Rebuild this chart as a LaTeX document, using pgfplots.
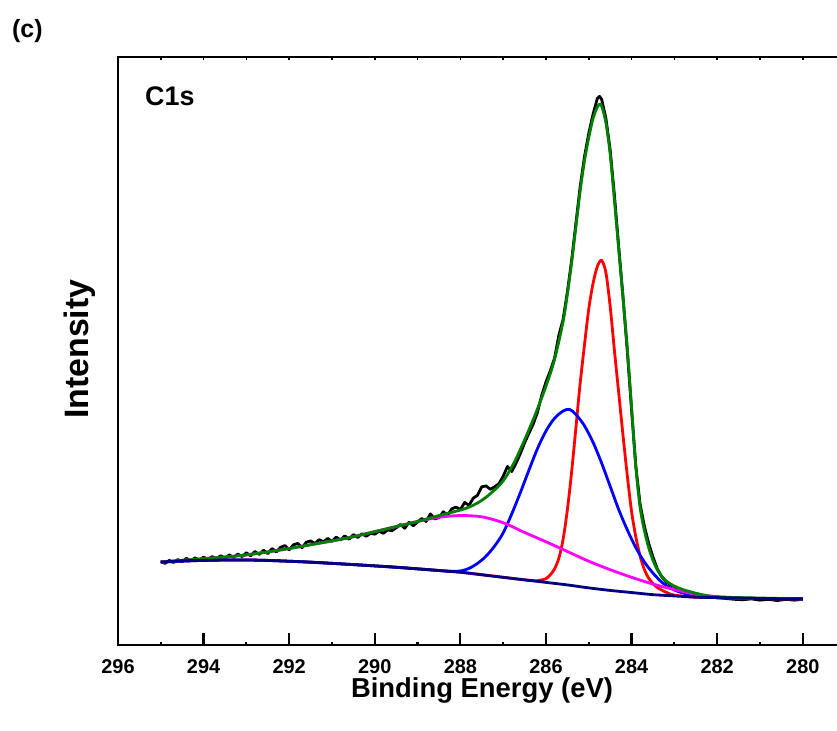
\documentclass[border=0pt]{standalone}
\usepackage{fontspec}
\setmainfont{Liberation Sans}
\usepackage{pgfplots}
\usepackage{pgfplotstable}
\pgfplotsset{compat=1.18}
\definecolor{fitgreen}{RGB}{0,128,0}
\definecolor{basenavy}{RGB}{0,0,128}
\definecolor{pkred}{RGB}{255,0,0}
\definecolor{pkblue}{RGB}{0,0,255}
\definecolor{pkmag}{RGB}{255,0,255}

% measured spectrum (binding energy, intensity in tick units)
\pgfplotstableread{
x y
295.0 1.97
294.9 1.93
294.8 2.00
294.7 1.95
294.6 2.02
294.5 1.97
294.4 2.05
294.3 1.99
294.2 2.06
294.1 2.01
294.0 2.08
293.9 2.02
293.8 2.09
293.7 2.04
293.6 2.11
293.5 2.05
293.4 2.13
293.3 2.07
293.2 2.15
293.1 2.09
293.0 2.18
292.9 2.11
292.8 2.21
292.7 2.14
292.6 2.24
292.5 2.16
292.4 2.28
292.3 2.20
292.2 2.31
292.1 2.35
292.0 2.25
291.9 2.37
291.8 2.40
291.7 2.30
291.6 2.43
291.5 2.46
291.4 2.40
291.3 2.49
291.2 2.44
291.1 2.52
291.0 2.45
290.9 2.55
290.8 2.48
290.7 2.58
290.6 2.50
290.5 2.61
290.4 2.54
290.3 2.63
290.2 2.57
290.1 2.64
290.0 2.62
289.9 2.69
289.8 2.64
289.7 2.72
289.6 2.70
289.5 2.77
289.4 2.85
289.3 2.76
289.2 2.90
289.1 2.82
289.0 2.91
288.9 2.99
288.8 2.92
288.7 3.10
288.6 2.98
288.5 3.01
288.4 3.15
288.3 3.07
288.2 3.22
288.1 3.26
288.0 3.20
287.9 3.37
287.8 3.30
287.7 3.47
287.6 3.54
287.5 3.74
287.4 3.76
287.3 3.68
287.2 3.74
287.1 3.81
287.0 3.99
286.9 4.22
286.8 4.10
286.7 4.30
286.6 4.52
286.5 4.78
286.4 5.00
286.3 5.22
286.2 5.50
286.1 5.90
286.0 6.22
285.9 6.48
285.8 6.78
285.7 7.32
285.6 7.70
285.5 8.35
285.4 9.10
285.3 9.98
285.2 10.85
285.1 11.55
285.0 12.10
284.9 12.55
284.8 12.92
284.75 12.97
284.7 12.90
284.6 12.45
284.5 11.70
284.4 10.62
284.3 9.40
284.2 8.22
284.1 6.95
284.0 5.55
283.9 4.22
283.8 3.32
283.7 2.80
283.6 2.40
283.5 2.08
283.4 1.80
283.3 1.62
283.2 1.50
283.1 1.43
283.0 1.38
282.8 1.28
282.6 1.22
282.4 1.18
282.2 1.13
282.0 1.12
281.8 1.10
281.6 1.08
281.4 1.07
281.2 1.09
281.0 1.06
280.8 1.08
280.6 1.05
280.4 1.08
280.2 1.06
280.0 1.08
}\rawdata

\pgfplotstableread{
x y
295.0 1.96
294.5 1.99
294.0 2.00
293.5 2.01
293.0 2.01
292.5 2.00
292.0 1.98
291.5 1.96
291.0 1.93
290.5 1.90
290.0 1.87
289.5 1.84
289.0 1.80
288.5 1.76
288.0 1.72
287.5 1.66
287.0 1.60
286.5 1.54
286.0 1.48
285.5 1.42
285.0 1.35
284.5 1.29
284.0 1.24
283.5 1.19
283.0 1.16
282.5 1.13
282.0 1.12
281.0 1.10
280.0 1.09
}\basedata

\pgfplotstableread{
x y
295.0 1.96
294.0 2.00
293.0 2.01
292.0 1.98
291.0 1.93
290.0 1.87
289.0 1.80
288.0 1.72
287.0 1.60
286.5 1.54
286.2 1.52
286.0 1.57
285.9 1.66
285.8 1.80
285.7 2.05
285.6 2.50
285.5 3.20
285.4 4.10
285.3 5.15
285.2 6.20
285.1 7.10
285.0 7.95
284.9 8.55
284.8 8.95
284.7 9.09
284.6 8.80
284.5 8.00
284.4 6.95
284.3 5.95
284.2 4.95
284.1 4.00
284.0 3.15
283.9 2.55
283.8 2.10
283.7 1.78
283.6 1.58
283.5 1.45
283.4 1.36
283.2 1.25
283.0 1.18
282.5 1.13
282.0 1.12
281.0 1.10
280.0 1.09
}\reddata

\pgfplotstableread{
x y
295.0 1.96
294.0 2.00
293.0 2.01
292.0 1.98
291.0 1.93
290.0 1.87
289.0 1.80
288.5 1.76
288.2 1.74
288.0 1.75
287.8 1.81
287.6 1.93
287.4 2.10
287.2 2.34
287.0 2.65
286.8 3.10
286.6 3.60
286.4 4.13
286.2 4.64
286.0 5.06
285.8 5.36
285.6 5.53
285.45 5.57
285.3 5.45
285.1 5.18
284.9 4.79
284.7 4.30
284.5 3.75
284.3 3.20
284.1 2.72
283.9 2.30
283.7 1.96
283.5 1.70
283.3 1.49
283.1 1.35
282.9 1.26
282.6 1.18
282.3 1.14
282.0 1.12
281.0 1.10
280.0 1.09
}\bluedata

\pgfplotstableread{
x y
295.0 1.96
294.5 2.00
294.0 2.04
293.5 2.08
293.0 2.13
292.5 2.20
292.0 2.28
291.5 2.37
291.0 2.46
290.5 2.56
290.0 2.68
289.5 2.80
289.0 2.92
288.5 3.02
288.0 3.06
287.5 3.03
287.0 2.89
286.5 2.66
286.0 2.44
285.5 2.21
285.0 1.98
284.5 1.78
284.0 1.60
283.5 1.44
283.0 1.31
282.5 1.20
282.0 1.14
281.5 1.11
281.0 1.10
280.0 1.09
}\magdata

\pgfplotstableread{
x y
295.0 1.96
294.5 2.00
294.0 2.04
293.5 2.08
293.0 2.13
292.5 2.20
292.0 2.28
291.5 2.37
291.0 2.46
290.5 2.56
290.0 2.68
289.5 2.80
289.0 2.92
288.5 3.06
288.0 3.19
287.75 3.28
287.5 3.42
287.25 3.62
287.0 3.88
286.75 4.30
286.5 4.85
286.25 5.45
286.0 6.12
285.8 6.75
285.6 7.65
285.5 8.30
285.4 9.05
285.3 9.90
285.2 10.75
285.1 11.45
285.0 12.00
284.9 12.45
284.8 12.72
284.75 12.78
284.7 12.74
284.6 12.35
284.5 11.60
284.4 10.50
284.3 9.35
284.2 8.20
284.1 7.00
284.0 5.60
283.9 4.20
283.8 3.25
283.7 2.70
283.6 2.30
283.5 2.00
283.4 1.78
283.3 1.63
283.2 1.52
283.1 1.45
283.0 1.39
282.8 1.31
282.6 1.25
282.4 1.20
282.2 1.16
282.0 1.14
281.5 1.12
281.0 1.11
280.5 1.10
280.0 1.09
}\envdata

\begin{document}
\begin{tikzpicture}
\useasboundingbox (0,0) rectangle (837bp,731bp);
% small ticks along the top edge
\begin{axis}[
  at={(118bp,86bp)}, scale only axis, width=727bp, height=588bp,
  x dir=reverse, xmin=279.014, xmax=296, ymin=0, ymax=13.9,
  axis x line*=top, axis y line=none,
  xtick={280,281,...,296}, xticklabels={},
  major tick length=3bp, tick align=inside,
  every tick/.style={black,line width=1.5bp},
  axis line style={line width=2.8bp},
]
\end{axis}
\begin{axis}[
  at={(118bp,86bp)}, scale only axis, width=727bp, height=588bp,
  x dir=reverse, xmin=279.014, xmax=296, ymin=0, ymax=13.9,
  axis line style={line width=2.8bp},
  xtick={280,282,...,296}, minor xtick={281,283,...,295},
  ytick=\empty, minor ytick={1,2,...,13},
  xtick pos=left, ytick pos=left,
  tick align=inside, major tick length=12bp, minor tick length=3bp,
  every tick/.style={black,line width=2.2bp},
  /pgf/number format/assume math mode=true,
  xticklabel style={font=\fontsize{20}{20}\selectfont\bfseries, inner sep=0pt, anchor=north, yshift=-14bp},
  xlabel={Binding Energy (eV)},
  xlabel style={font=\fontsize{27.5}{30}\selectfont\bfseries, inner sep=0pt,
    at={(axis description cs:0.5007,-0.0901)}, anchor=base},
  ylabel={Intensity},
  ylabel style={font=\fontsize{34}{36}\selectfont\bfseries, inner sep=0pt,
    at={(axis description cs:-0.0399,0.503)}, anchor=base, rotate=0},
  clip=false,
]
\addplot[black, line width=2.8bp, line join=round] table {\rawdata};
\addplot[pkred, line width=2.8bp, smooth] table {\reddata};
\addplot[pkblue, line width=2.8bp, smooth] table {\bluedata};
\addplot[pkmag, line width=2.8bp, smooth] table {\magdata};
\addplot[fitgreen, line width=2.8bp, smooth] table {\envdata};
\addplot[basenavy, line width=2.8bp, smooth] table {\basedata};
\node[anchor=base west, inner sep=0pt, font=\fontsize{27}{29}\selectfont\bfseries]
  at (axis description cs:0.0371,0.918) {C1s};
\node[anchor=base west, inner sep=0pt, font=\fontsize{25}{27}\selectfont\bfseries]
  at (axis description cs:-0.1458,1.034) {(c)};
\end{axis}
\end{tikzpicture}
\end{document}
